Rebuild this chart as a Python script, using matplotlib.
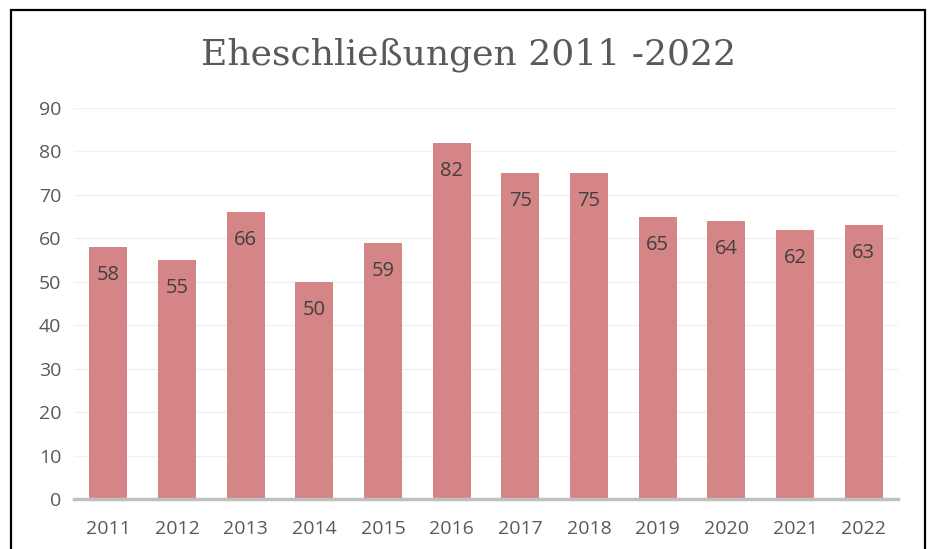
import matplotlib
matplotlib.use("Agg")
from matplotlib import pyplot as plt
from matplotlib.patches import Rectangle

# Daten
jahre = ["2011", "2012", "2013", "2014", "2015", "2016", "2017", "2018", "2019", "2020", "2021", "2022"]
ehen = [58, 55, 66, 50, 59, 82, 75, 75, 65, 64, 62, 63]
yticks = [0, 10, 20, 30, 40, 50, 60, 70, 80, 90]

bar_color = "#D58585"

fig = plt.figure(figsize=(9.29, 5.49), dpi=100)
ax = fig.add_axes([74/929, 1 - 499/549, 824/929, 391/549])

x = range(len(jahre))
ax.bar(x, ehen, width=0.55, color=bar_color, zorder=2)

for i, v in enumerate(ehen):
    ax.annotate(str(v), (i, v), xytext=(0, -28), textcoords="offset pixels",
                ha="center", va="center", fontsize=14.5, color="#404040",
                family="Open Sans")

ax.set_xlim(-0.5, len(jahre) - 0.5)
ax.set_ylim(0, 90)
ax.set_yticks(yticks)
ax.set_xticks(list(x))
ax.set_xticklabels(jahre)
ax.grid(axis="y", color="#F0F0F0", linewidth=1, zorder=0)
for s in ["top", "right", "left"]:
    ax.spines[s].set_visible(False)
ax.spines["bottom"].set_color("#BFBFBF")
ax.spines["bottom"].set_linewidth(2.5)
ax.spines["bottom"].set_zorder(3)
ax.tick_params(length=0, labelsize=14, labelcolor="#595959")
ax.tick_params(axis="x", pad=15)
ax.tick_params(axis="y", pad=9)
for lab in ax.get_xticklabels() + ax.get_yticklabels():
    lab.set_family("Open Sans")

fig.text(469/929, 1 - 55/549, "Eheschließungen 2011 -2022", ha="center", va="center",
         fontsize=26, color="#595959", family="DejaVu Serif")

# Rahmen
fig.patches.append(Rectangle((11/929, -0.05), 914/929, 1 - 10/549 + 0.05,
                             transform=fig.transFigure, fill=False,
                             edgecolor="black", linewidth=1.6))

fig.savefig("out.png", dpi=100)
